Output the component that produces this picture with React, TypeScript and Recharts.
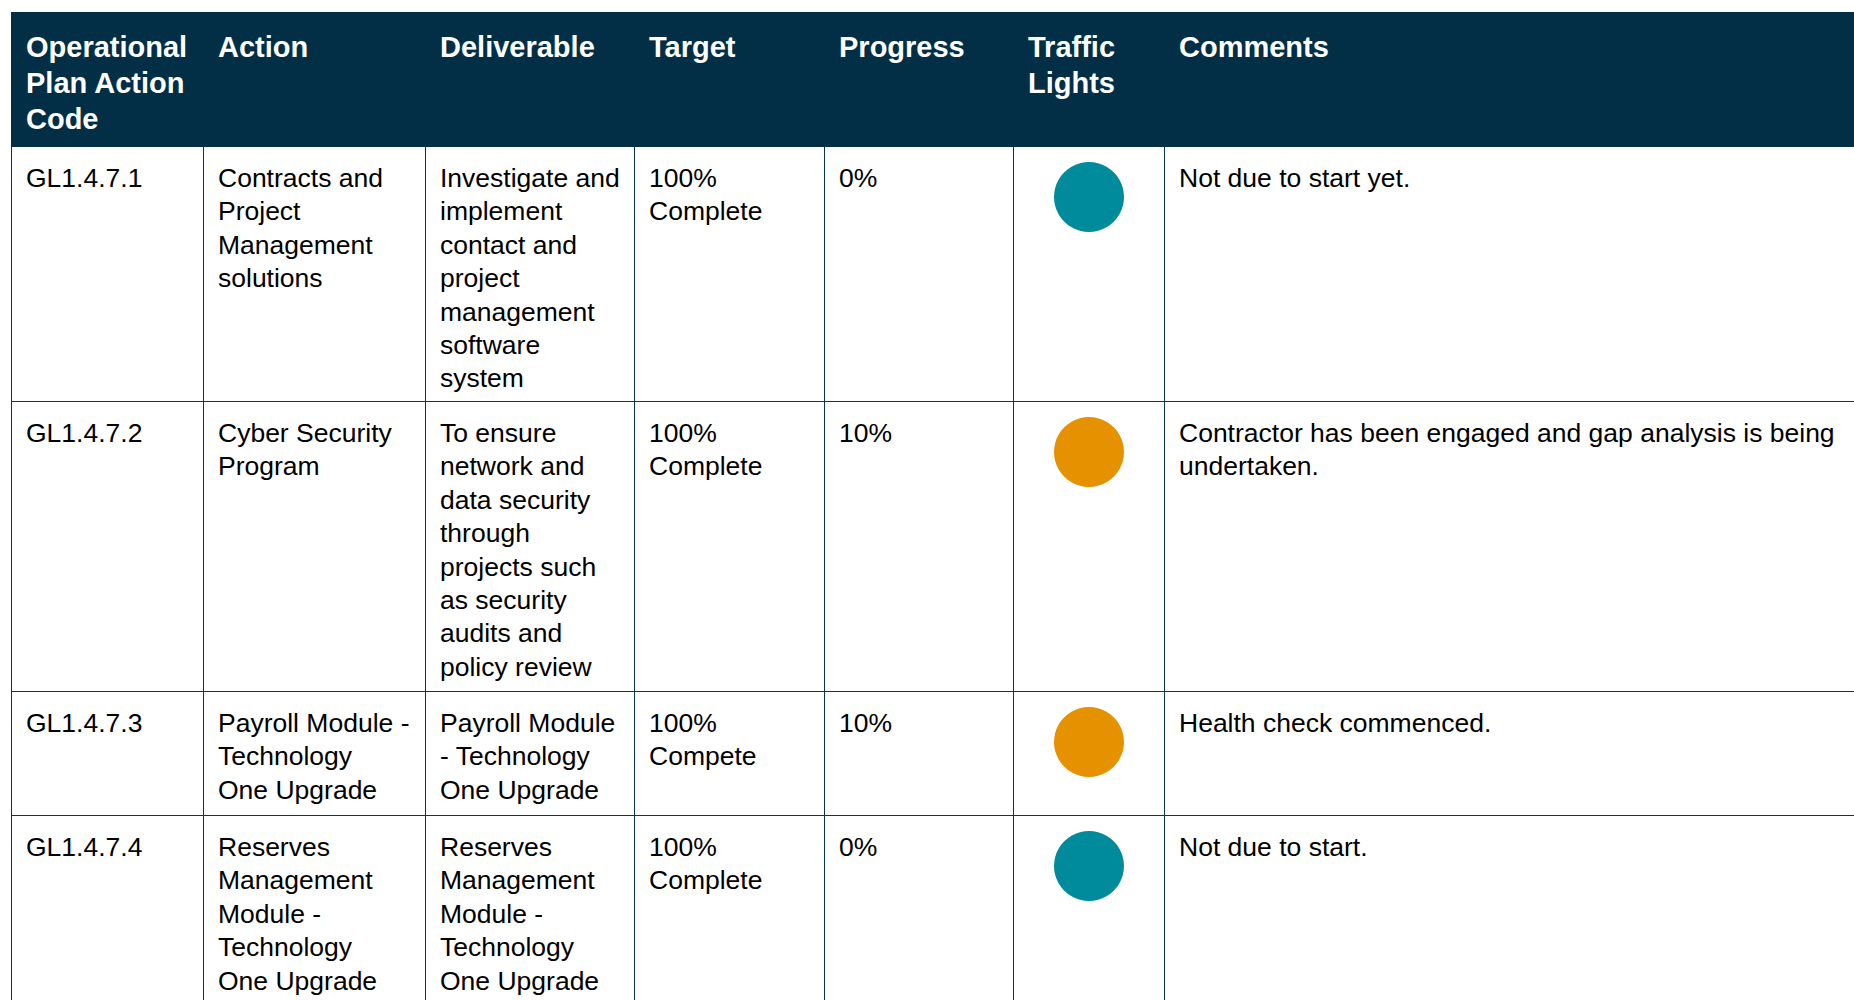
/**
 * Operational plan status table with traffic light indicators
 */

import React from 'react';
import { PieChart, Pie, Cell } from 'recharts';

// Column headings
const HEADINGS = [
  'Operational Plan Action Code',
  'Action',
  'Deliverable',
  'Target',
  'Progress',
  'Traffic Lights',
  'Comments',
];

// Row data
const CODES = ['GL1.4.7.1', 'GL1.4.7.2', 'GL1.4.7.3', 'GL1.4.7.4'];
const ACTIONS = [
  'Contracts and Project Management solutions',
  'Cyber Security Program',
  'Payroll\u00a0Module\u00a0- Technology One Upgrade',
  'Reserves Management Module - Technology One Upgrade',
];
const DELIVERABLES = [
  'Investigate and implement contact and project management software system',
  'To ensure network and data security through projects such as security audits and policy review',
  'Payroll Module - Technology One Upgrade',
  'Reserves Management Module - Technology One Upgrade',
];
const TARGETS = ['100% Complete', '100% Complete', '100% Compete', '100% Complete'];
const PROGRESS = [0, 10, 10, 0];
const STATUS = ['notStarted', 'inProgress', 'inProgress', 'notStarted'];
const COMMENTS = [
  'Not due to start yet.',
  'Contractor has been engaged and gap analysis is being undertaken.',
  'Health check commenced.',
  'Not due to start.',
];

const STATUS_COLORS: Record<string, string> = {
  notStarted: '#008b9c',
  inProgress: '#e59100',
};

const NAVY = '#022f46';
const LINE = '#0e3450';
const COL_WIDTHS = [192, 222, 209, 190, 189, 151, 720];
const COL_PAD_RIGHT = [8, 22, 8, 8, 8, 0, 8];
const ROW_HEIGHTS = [255, 290, 124, 240];
const FONT = '"Liberation Sans", Arial, sans-serif';

const TrafficLight: React.FC<{ status: string }> = ({ status }) => (
  <PieChart width={70} height={70}>
    <Pie
      data={[{ name: status, value: 1 }]}
      dataKey="value"
      cx="50%"
      cy="50%"
      outerRadius={35}
      startAngle={90}
      endAngle={-270}
      stroke="none"
      isAnimationActive={false}
    >
      <Cell fill={STATUS_COLORS[status]} />
    </Pie>
  </PieChart>
);

const App: React.FC = () => {
  const rows = CODES.map((code, i) => [
    code,
    ACTIONS[i],
    DELIVERABLES[i],
    TARGETS[i],
    `${PROGRESS[i]}%`,
    STATUS[i],
    COMMENTS[i],
  ]);

  return (
    <div style={{
      position: 'absolute',
      left: 0,
      top: 0,
      width: 1854,
      height: 1000,
      overflow: 'hidden',
      background: '#fff',
      fontFamily: FONT,
    }}>
      <div style={{ position: 'absolute', left: 11, top: 12 }}>
        {/* Header */}
        <div style={{ display: 'flex', height: 135, background: NAVY }}>
          {HEADINGS.map((h, c) => (
            <div key={h} style={{
              width: COL_WIDTHS[c],
              boxSizing: 'border-box',
              padding: '17px 8px 0 15px',
              color: '#fff',
              fontWeight: 'bold',
              fontSize: '29px',
              lineHeight: '36px',
            }}>
              {h}
            </div>
          ))}
        </div>
        {/* Body rows */}
        {rows.map((cells, r) => (
          <div key={CODES[r]} style={{
            display: 'flex',
            height: ROW_HEIGHTS[r],
            borderBottom: `1px solid ${LINE}`,
            boxSizing: 'border-box',
          }}>
            {cells.map((text, c) => (
              <div key={c} style={{
                width: COL_WIDTHS[c],
                boxSizing: 'border-box',
                borderLeft: `1px solid ${LINE}`,
                padding: c === 5 ? '15px 0 0 0' : `15px ${COL_PAD_RIGHT[c]}px 0 14px`,
                display: c === 5 ? 'flex' : 'block',
                justifyContent: 'center',
                alignItems: 'flex-start',
                color: '#000',
                fontSize: '26.5px',
                lineHeight: '33.4px',
              }}>
                {c === 5 ? <TrafficLight status={text} /> : text}
              </div>
            ))}
          </div>
        ))}
      </div>
    </div>
  );
};

export default App;
